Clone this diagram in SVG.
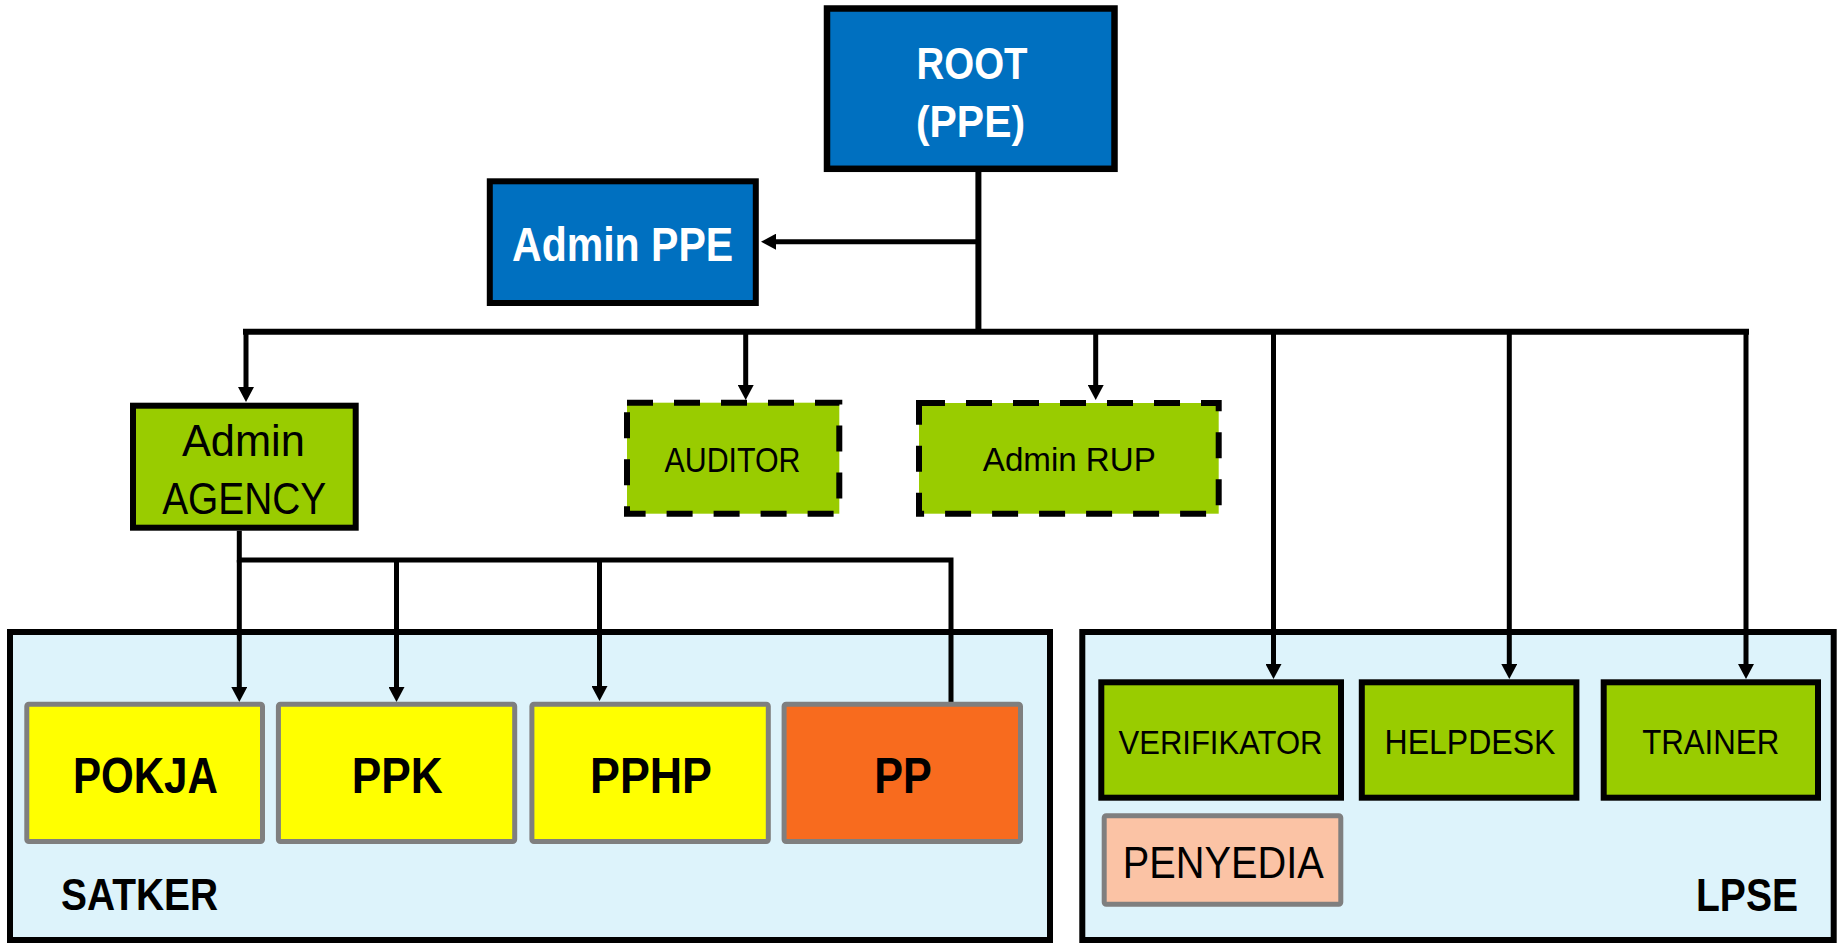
<svg xmlns="http://www.w3.org/2000/svg" width="1841" height="944" viewBox="0 0 1841 944">
<style>
text{font-family:"Liberation Sans",Arial,sans-serif;text-anchor:middle;}
.blue{fill:#0070C0;stroke:#000;stroke-width:6.5;}
.bt{fill:#fff;font-weight:bold;}
.grn{fill:#99CC00;stroke:#000;stroke-width:6;}
.dash{fill:#99CC00;stroke:#000;stroke-width:6;stroke-dasharray:26 21;}
.cont{fill:#DDF3FB;stroke:#000;stroke-width:6;}
.sat{stroke:#7F7F7F;stroke-width:5;}
.k{fill:#000;}
.bold{font-weight:bold;}
.c{fill:none;stroke:#000;stroke-width:5;}
.ca{fill:none;stroke:#000;stroke-width:5;marker-end:url(#ah);}
</style>
<defs>
<marker id="ah" markerUnits="userSpaceOnUse" markerWidth="16" markerHeight="16" refX="1" refY="8" orient="auto">
<path d="M0,0 L15,8 L0,16 z" fill="#000"/>
</marker>
</defs>
<rect width="1841" height="944" fill="#fff"/>

<g id="satker">
<rect class="cont" x="10" y="632" width="1040" height="308"/>
<text class="k bold" x="61" y="910" font-size="44" text-anchor="start" style="text-anchor:start" textLength="157" lengthAdjust="spacingAndGlyphs">SATKER</text>
</g>
<g id="lpse">
<rect class="cont" x="1082.3" y="632" width="751.4" height="308"/>
<text class="k bold" x="1747" y="910.5" font-size="46" textLength="102" lengthAdjust="spacingAndGlyphs">LPSE</text>
</g>

<g id="connectors">
<path class="c" d="M978.4 172 V331.7" style="stroke-width:6"/>
<path class="c" d="M243 331.7 H1749" style="stroke-width:6"/>
<path class="ca" d="M978.4 241.7 H775"/>
<path class="ca" d="M246 331.7 V388"/>
<path class="ca" d="M745.7 331.7 V386"/>
<path class="ca" d="M1095.7 331.7 V386"/>
<path class="ca" d="M1273.5 331.7 V665"/>
<path class="ca" d="M1509.3 331.7 V665"/>
<path class="ca" d="M1746 331.7 V665"/>
<path class="c" d="M239.3 530.7 V560 H951 V702"/>
<path class="ca" d="M239.3 560 V688"/>
<path class="ca" d="M396.5 560 V688"/>
<path class="ca" d="M599.5 558 V687"/>
</g>

<g id="root">
<rect class="blue" x="827" y="8.5" width="287.5" height="160.3"/>
<text class="bt" x="972" y="79" font-size="45" textLength="111" lengthAdjust="spacingAndGlyphs">ROOT</text>
<text class="bt" x="970.5" y="136.7" font-size="45" textLength="109" lengthAdjust="spacingAndGlyphs">(PPE)</text>
</g>
<g id="admin-ppe">
<rect class="blue" x="489.8" y="181.3" width="266" height="121.7" style="stroke-width:6"/>
<text class="bt" x="622.6" y="261" font-size="48" textLength="221" lengthAdjust="spacingAndGlyphs">Admin PPE</text>
</g>
<g id="admin-agency">
<rect class="grn" x="133" y="405.7" width="222.7" height="122"/>
<text class="k" x="243.4" y="456" font-size="45" textLength="123" lengthAdjust="spacingAndGlyphs">Admin</text>
<text class="k" x="244.2" y="514" font-size="45" textLength="164" lengthAdjust="spacingAndGlyphs">AGENCY</text>
</g>
<g id="auditor">
<rect class="dash" x="627" y="402.7" width="212.3" height="111"/>
<text class="k" x="732.5" y="471.7" font-size="35" textLength="136" lengthAdjust="spacingAndGlyphs">AUDITOR</text>
</g>
<g id="admin-rup">
<rect class="dash" x="919" y="403" width="299.7" height="110.7"/>
<text class="k" x="1069.3" y="471" font-size="33" textLength="173" lengthAdjust="spacingAndGlyphs">Admin RUP</text>
</g>

<g id="pokja">
<rect class="sat" x="26.8" y="704.2" width="235.7" height="137.3" rx="2" fill="#FFFF00"/>
<text class="k bold" x="145.4" y="792.7" font-size="50" textLength="145" lengthAdjust="spacingAndGlyphs">POKJA</text>
</g>
<g id="ppk">
<rect class="sat" x="278.4" y="704.2" width="236.3" height="137.3" rx="2" fill="#FFFF00"/>
<text class="k bold" x="397.2" y="792.7" font-size="50" textLength="91" lengthAdjust="spacingAndGlyphs">PPK</text>
</g>
<g id="pphp">
<rect class="sat" x="531.9" y="704.2" width="236.4" height="137.3" rx="2" fill="#FFFF00"/>
<text class="k bold" x="651" y="792.7" font-size="50" textLength="122" lengthAdjust="spacingAndGlyphs">PPHP</text>
</g>
<g id="pp">
<rect class="sat" x="784.1" y="704.2" width="236.4" height="137.3" rx="2" fill="#F86B1E"/>
<text class="k bold" x="903" y="792.7" font-size="50" textLength="57.5" lengthAdjust="spacingAndGlyphs">PP</text>
</g>

<g id="verifikator">
<rect class="grn" x="1101.3" y="682.3" width="239.7" height="115.4"/>
<text class="k" x="1220.5" y="754.3" font-size="34" textLength="204" lengthAdjust="spacingAndGlyphs">VERIFIKATOR</text>
</g>
<g id="helpdesk">
<rect class="grn" x="1361.8" y="682.3" width="214.6" height="115.4"/>
<text class="k" x="1470" y="754.3" font-size="35" textLength="171" lengthAdjust="spacingAndGlyphs">HELPDESK</text>
</g>
<g id="trainer">
<rect class="grn" x="1603.7" y="682.3" width="214.3" height="115.4"/>
<text class="k" x="1710.7" y="754.3" font-size="35" textLength="137" lengthAdjust="spacingAndGlyphs">TRAINER</text>
</g>
<g id="penyedia">
<rect class="sat" x="1104.2" y="815.8" width="236.6" height="88.4" rx="2" fill="#FBC3A5"/>
<text class="k" x="1223.3" y="878.3" font-size="44" textLength="201" lengthAdjust="spacingAndGlyphs">PENYEDIA</text>
</g>
</svg>
